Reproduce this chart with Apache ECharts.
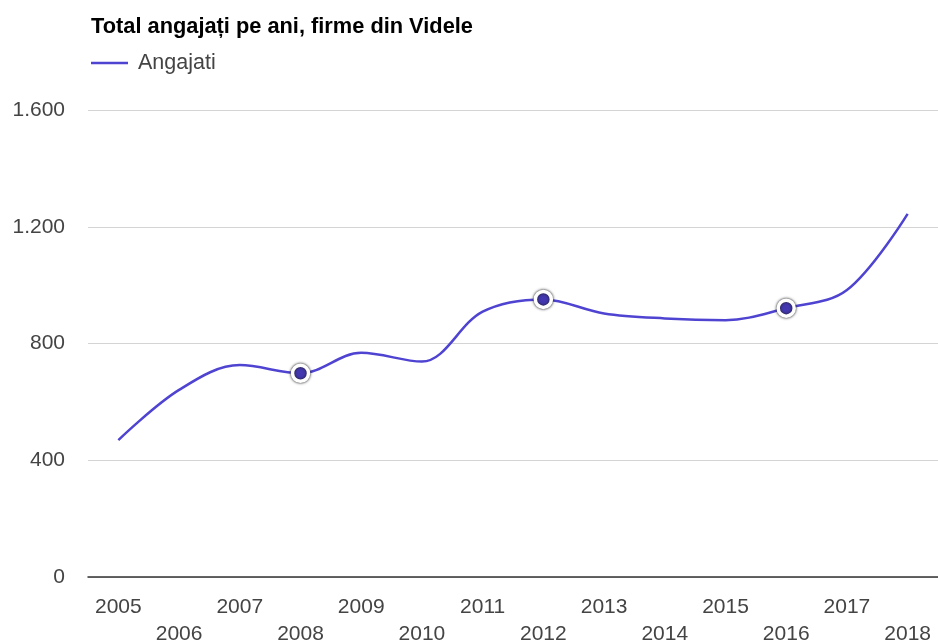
<!DOCTYPE html>
<html>
<head>
<meta charset="utf-8">
<script src="https://cdn.jsdelivr.net/npm/echarts@6/dist/echarts.min.js"></script>
<style>
  html, body { margin: 0; padding: 0; background: #fff; overflow: hidden; }
  #chart { width: 938px; height: 641px; }
</style>
</head>
<body>
<div id="chart"></div>
<script>
// date
var years = ['2005', '2006', '2007', '2008', '2009', '2010', '2011', '2012', '2013', '2014', '2015', '2016', '2017', '2018'];
var angajati = [469, 641, 726, 698, 768, 738, 909, 951, 903, 886, 880, 921, 983, 1244];
var markedYears = ['2008', '2012', '2016'];
var yTickValues = [0, 400, 800, 1200, 1600];
var yTickLabels = ['0', '400', '800', '1.200', '1.600'];

var chart = echarts.init(document.getElementById('chart'));

var seriesData = [];
for (var i = 0; i < years.length; i++) {
     if (markedYears.indexOf(years[i]) >= 0) {
          seriesData.push({ value: angajati[i], symbol: 'circle' });
     } else {
          seriesData.push({ value: angajati[i], symbol: 'none' });
     }
}

var font = 'Liberation Sans, Arial, sans-serif';

var option = {
     animation: false,
     title: {
          text: 'Total angajați pe ani, firme din Videle',
          left: 86,
          top: 11,
          textStyle: {
               fontFamily: font,
               fontSize: 21.8,
               fontWeight: 'bold',
               color: '#000'
          }
     },
     legend: {
          left: 86,
          top: 47,
          icon: 'rect',
          itemWidth: 37,
          itemHeight: 2.5,
          data: ['Angajati'],
          itemStyle: { color: '#4f44d1', borderWidth: 0, shadowBlur: 0 },
          textStyle: {
               fontFamily: font,
               fontSize: 21.5,
               color: '#444',
               padding: [0, 0, 0, 5]
          }
     },
     grid: {
          left: 88,
          right: 0,
          top: 110,
          bottom: 64,
          containLabel: false,
          outerBoundsMode: 'none'
     },
     xAxis: {
          type: 'category',
          boundaryGap: true,
          data: years,
          axisLine: { show: true, lineStyle: { color: '#333', width: 1.5 } },
          axisTick: { show: false },
          axisLabel: {
               interval: 0,
               margin: 17,
               lineHeight: 27,
               fontFamily: font,
               fontSize: 21,
               color: '#444',
               formatter: function (v, idx) {
                    return idx % 2 ? '\n' + v : v;
               }
          }
     },
     yAxis: {
          type: 'value',
          min: 0,
          max: 1600,
          interval: 400,
          axisLine: { show: false },
          axisTick: { show: false },
          splitLine: { lineStyle: { color: '#d4d4d4', width: 1 } },
          axisLabel: {
               margin: 23,
               fontFamily: font,
               fontSize: 21,
               color: '#444',
               formatter: function (v) {
                    var k = yTickValues.indexOf(v);
                    return k >= 0 ? yTickLabels[k] : '';
               }
          }
     },
     series: [{
          name: 'Angajati',
          type: 'line',
          smooth: 0.35,
          showAllSymbol: true,
          symbol: 'none',
          symbolSize: 16,
          data: seriesData,
          lineStyle: { color: '#4f44d1', width: 2.5 },
          itemStyle: {
               color: '#4338b0',
               borderColor: '#fff',
               borderWidth: 3.5,
               shadowColor: 'rgba(30,30,30,1)',
               shadowBlur: 3
          },
          emphasis: { disabled: true }
     }]
};

chart.setOption(option);
</script>
</body>
</html>
